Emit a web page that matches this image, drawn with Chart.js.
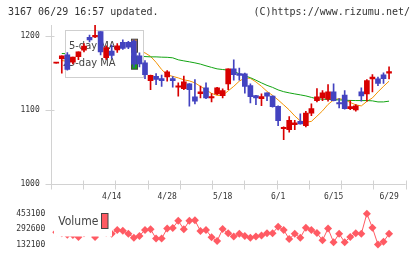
<!DOCTYPE html>
<html lang="ja">
<head>
<meta charset="UTF-8">
<title>3167 daily chart</title>
<script src="https://cdn.jsdelivr.net/npm/chart.js@4.4.0/dist/chart.umd.min.js"></script>
<style>
  body { margin: 0; background: #fff; }
  #wrap { position: relative; width: 420px; height: 259px; overflow: hidden; }
  .hd { position: absolute; top: 6px; font: 10px "DejaVu Sans Mono", monospace; color: #333; white-space: pre; z-index: 3; }
  #price { position: absolute; left: 0; top: 0; z-index: 2; }
  #vol { position: absolute; left: 0; top: 200px; z-index: 1; }
</style>
</head>
<body>
<div id="wrap">
  <div class="hd" style="left:8px">3167 06/29 16:57 updated.</div>
  <div class="hd" style="right:10px">(C)https://www.rizumu.net/</div>
  <canvas id="price" width="420" height="205"></canvas>
  <canvas id="vol" width="420" height="59"></canvas>
</div>
<script>
// trading days 3/31 .. 6/29
const dates = ['3/31','4/1','4/2','4/3','4/6','4/7','4/8','4/9','4/10','4/13',
  '4/14','4/15','4/16','4/17','4/20','4/21','4/22','4/23','4/24','4/27',
  '4/28','4/30','5/1','5/7','5/8','5/11','5/12','5/13','5/14','5/15',
  '5/18','5/19','5/20','5/21','5/22','5/25','5/26','5/27','5/28','5/29',
  '6/1','6/2','6/3','6/4','6/5','6/8','6/9','6/10','6/11','6/12',
  '6/15','6/16','6/17','6/18','6/19','6/22','6/23','6/24','6/25','6/26','6/29'];

const open = [1163.5,1169.7,1174.7,1164.9,1172.4,1181,1198.2,1199,1206,1171,
  1179.9,1181.5,1191.6,1191.6,1193.6,1173.4,1164,1140,1145.7,1142.7,
  1145,1142.7,1131,1129.2,1135.5,1118,1122.4,1130.1,1116.6,1122,
  1119.7,1135.5,1155.8,1149.5,1149,1133.2,1119.7,1115.7,1123.4,1119,
  1105.4,1075.1,1073.8,1080.5,1085.1,1079.2,1096,1113,1116.6,1114.9,
  1124.7,1110.3,1120.3,1102.2,1100.4,1124.7,1122,1142.3,1142.3,1147.7,1150];
const high = [1163.5,1173.4,1177.8,1171.6,1178.8,1190,1201.3,1215,1206,1187,
  1188,1190,1195,1193,1195,1177.4,1167,1147.5,1149.5,1147.3,
  1153.5,1145.4,1137,1146,1136,1141.4,1132.4,1137,1122.4,1131,
  1128.8,1156,1168,1157,1150,1135.5,1120,1122,1123.5,1119.5,
  1106,1077.5,1091.4,1086.5,1095,1098.6,1108.5,1129.2,1126.5,1134.6,
  1135.5,1115.7,1126.5,1113,1107.6,1130.1,1141.4,1148.1,1144.6,1150.4,1158.5];
const low = [1163.5,1150,1154,1162.6,1168.3,1178.8,1192,1198,1174.7,1168.6,
  1170,1178,1182,1183,1158,1158.5,1142.7,1127.8,1134.6,1132,
  1139.2,1131,1119,1127.8,1105.4,1108.5,1116.6,1115.7,1111.2,1121,
  1116.6,1127.8,1140.5,1140.5,1123,1110,1107.6,1106.2,1113,1104,
  1079.2,1060.3,1070.3,1073.8,1081,1077.4,1092.7,1111.2,1113,1112.2,
  1112.5,1103.1,1101.5,1100.8,1098.6,1112.2,1112.2,1124.7,1133.2,1136,1142.3];
const close = [1163.5,1173.4,1154.9,1171.6,1178.8,1186.5,1195,1201,1178.5,1184.6,
  1174,1187,1183.5,1185,1162,1162.6,1148,1147.2,1141.4,1140,
  1151.8,1140,1132.8,1138.2,1127.8,1112.2,1124.7,1116.6,1118.4,1130.1,
  1126.5,1155.8,1148.1,1146.8,1132,1118.4,1116.6,1118.4,1118.9,1104.9,
  1086,1077,1086.5,1082.8,1081.5,1096,1102.2,1118,1123.4,1124.7,
  1113,1108.5,1102.2,1104.9,1105.8,1119.3,1140,1144.6,1136,1142.7,1152.2];

const ma5 = [null,1167,1166,1167,1168.5,1173,1177.5,1186.5,1188,1189,
  1186.5,1185,1181.5,1183,1180,1179,1177.4,1172.7,1164.6,1154.9,
  1147.7,1145.7,1143.6,1141,1139.6,1136.9,1132.2,1127.4,1122.7,1120,
  1120,1126.1,1132.2,1139.2,1143.6,1143,1138.2,1132.2,1125.4,1120,
  1113.9,1107.2,1100.4,1092.3,1085.5,1083.8,1084.9,1091.9,1099.1,1107.8,
  1113.9,1115.7,1113.9,1110.5,1107.2,1105.8,1111.9,1116.6,1124.7,1132.2,1139.2];
const ma25 = [null,1176.5,1176.3,1176,1175.8,1175.5,1175.3,1175,1174.8,1174.5,
  1174.2,1174,1173.7,1173.4,1173,1172.7,1172.4,1172,1172,1171.6,
  1171.4,1170.7,1168,1166.6,1165.3,1163.9,1162.2,1159.9,1157.8,1155.8,
  1154.9,1154.1,1152.4,1149.1,1146.4,1143.9,1140.5,1136.9,1133.5,1130.8,
  1127.4,1125,1123.4,1122,1120.7,1119.3,1117.3,1115.3,1114.9,1114.5,
  1114.2,1113.9,1113.5,1113.2,1113,1113,1113,1112.6,1111.2,1111.2,1112.2];

const volume = [260000,250000,235000,232000,211100,250000,270000,211100,280000,255000,
  245000,284500,276300,243700,203000,221700,284500,290200,194800,194800,
  298300,303200,379800,290200,379800,384700,272200,284500,208700,168000,
  292600,249400,216800,243700,221700,203000,216800,225000,249400,249400,
  317000,284500,189100,243700,203000,306500,284500,251900,176100,298300,
  156600,243700,156600,211100,249400,243700,453100,306500,132100,162200,243700];

const priceTicks = [1000, 1100, 1200];
const volumeTicks = [132100, 292600, 453100];
const labelEvery = 10;

const UP = '#d80000', DOWN = '#4343c0';
const MA5C = '#f39200', MA25C = '#12a412', VOLC = '#ff5a63';
const AXIS = '#d2d2d2', TXT = '#333';
const LEFT = 50.7, RIGHT_PAD = 14.3;
const mono = '"DejaVu Sans Mono", monospace';
const narrow = '"Liberation Sans Narrow", "DejaVu Sans Condensed", sans-serif';

const idx = dates.map((d, i) => i);
const candleColor = idx.map(i => close[i] >= open[i] ? UP : DOWN);

const priceDecor = {
  id: 'priceDecor',
  beforeDatasetDraw(chart, args) {
    // legend box sits over the MA lines but under the candles
    if (chart.data.datasets[args.index].label !== 'wick') return;
    const ctx = chart.ctx;
    ctx.save();
    ctx.fillStyle = '#fff';
    ctx.fillRect(65.5, 30.5, 78, 47);
    ctx.strokeStyle = '#cfcfcf';
    ctx.lineWidth = 1;
    ctx.strokeRect(65.5, 30.5, 78, 47);
    ctx.font = '11px ' + narrow;
    ctx.textAlign = 'right';
    ctx.textBaseline = 'middle';
    chart.data.datasets.filter(d => d.type === 'line').forEach((d, k) => {
      const y = 45.7 + k * 17;
      ctx.fillStyle = '#444';
      ctx.fillText(d.label, 115.5, y);
      ctx.fillStyle = d.borderColor;
      ctx.fillRect(131.5, y - 6.5, 6, 13);
      ctx.strokeStyle = '#444';
      ctx.strokeRect(131.5, y - 6.5, 6, 13);
    });
    ctx.restore();
  },
  afterDraw(chart) {
    const {ctx, chartArea: a, scales: {x, y}} = chart;
    ctx.save();
    ctx.strokeStyle = AXIS;
    ctx.lineWidth = 1;
    ctx.beginPath();
    const l = Math.round(a.left) + 0.5, b = Math.round(a.bottom) + 0.5;
    ctx.moveTo(l, a.top); ctx.lineTo(l, b); ctx.lineTo(a.right, b);
    priceTicks.forEach(v => {
      const py = Math.round(y.getPixelForValue(v)) + 0.5;
      ctx.moveTo(l - 6, py); ctx.lineTo(l + 3, py);
    });
    for (let k = 0; k <= 11; k++) {
      const px = Math.round(x.getPixelForValue(x.min + k * (x.max - x.min) / 11)) + 0.5;
      ctx.moveTo(px, b - 4); ctx.lineTo(px, b + 5);
    }
    ctx.stroke();
    ctx.restore();
  }
};

new Chart(document.getElementById('price'), {
  type: 'bar',
  data: {
    datasets: [
      { type: 'line', label: '5-day MA', data: idx.map(i => ({x: i, y: ma5[i]})),
        borderColor: MA5C, borderWidth: 1, pointRadius: 0, order: 4 },
      { type: 'line', label: '25-day MA', data: idx.map(i => ({x: i, y: ma25[i]})),
        borderColor: MA25C, borderWidth: 1, pointRadius: 0, order: 3 },
      { label: 'wick', data: idx.map(i => ({x: i, y: [low[i], high[i]]})),
        backgroundColor: candleColor, barThickness: 1, grouped: false, order: 2 },
      { label: 'body', data: idx.map(i => ({x: i, y: [open[i], close[i]]})),
        backgroundColor: candleColor, barThickness: 5, minBarLength: 1, grouped: false, order: 1 }
    ]
  },
  options: {
    responsive: false, animation: false, devicePixelRatio: 1,
    layout: { padding: { top: 25, right: RIGHT_PAD, left: 0, bottom: 0 } },
    plugins: { legend: { display: false }, tooltip: { enabled: false } },
    scales: {
      x: {
        type: 'linear', min: -1, max: 63, offset: false,
        grid: { display: false, drawTicks: false }, border: { display: false },
        afterBuildTicks: s => { s.ticks = idx.filter(i => i > 0 && i % labelEvery === 0).map(v => ({value: v})); },
        afterFit: s => { s.height = 20.7; },
        ticks: { autoSkip: false, maxRotation: 0, padding: 8, color: TXT,
                 font: { family: mono, size: 8 }, callback: v => dates[v] }
      },
      y: {
        min: 1000, max: 1215,
        grid: { display: false, drawTicks: false }, border: { display: false },
        afterBuildTicks: s => { s.ticks = priceTicks.map(v => ({value: v})); },
        afterFit: s => { s.width = LEFT; },
        ticks: { padding: 11, color: TXT, font: { family: mono, size: 8 }, callback: v => String(v) }
      }
    }
  },
  plugins: [priceDecor]
});

const volDecor = {
  id: 'volDecor',
  afterDatasetsDraw(chart) {
    const ctx = chart.ctx;
    ctx.save();
    ctx.fillStyle = '#fff';
    ctx.fillRect(54, 7, 58, 29.5);
    ctx.font = '12px ' + narrow;
    ctx.textAlign = 'left';
    ctx.textBaseline = 'middle';
    ctx.fillStyle = '#444';
    ctx.fillText(chart.data.datasets[0].label, 58.3, 21.7);
    ctx.fillStyle = VOLC;
    ctx.fillRect(101.5, 13.5, 6.5, 15);
    ctx.strokeStyle = '#444';
    ctx.lineWidth = 1;
    ctx.strokeRect(101.5, 13.5, 6.5, 15);
    ctx.restore();
  }
};

new Chart(document.getElementById('vol'), {
  type: 'line',
  data: {
    datasets: [{
      label: 'Volume', data: idx.map(i => ({x: i, y: volume[i]})),
      borderColor: VOLC, backgroundColor: VOLC, borderWidth: 1,
      pointStyle: 'rectRot', pointRadius: 4, pointBorderWidth: 0, clip: false
    }]
  },
  options: {
    responsive: false, animation: false, devicePixelRatio: 1,
    layout: { padding: { top: 5, right: RIGHT_PAD, left: 0, bottom: 5 } },
    plugins: { legend: { display: false }, tooltip: { enabled: false } },
    scales: {
      x: { type: 'linear', min: -1, max: 63, display: false },
      y: {
        min: 88900, max: 488100,
        grid: { display: false, drawTicks: false }, border: { display: false },
        afterBuildTicks: s => { s.ticks = volumeTicks.map(v => ({value: v})); },
        afterFit: s => { s.width = LEFT; },
        ticks: { padding: 5.5, color: TXT, font: { family: mono, size: 8 }, callback: v => String(v) }
      }
    }
  },
  plugins: [volDecor]
});
</script>
</body>
</html>
